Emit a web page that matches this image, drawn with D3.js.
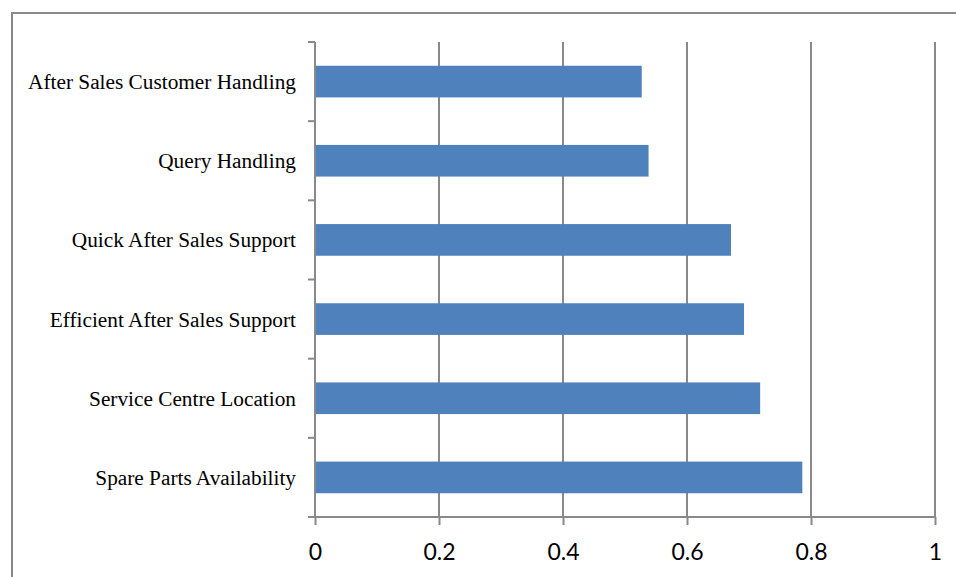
<!DOCTYPE html>
<html>
<head>
<meta charset="utf-8">
<script src="https://cdn.jsdelivr.net/npm/d3@7/dist/d3.min.js"></script>
<style>
  html, body { margin: 0; padding: 0; background: #fff; }
  svg { display: block; }
</style>
</head>
<body>
<svg id="chart" width="956" height="577"></svg>
<script>
// Service attributes, listed top to bottom
const categories = [
  "After Sales Customer Handling",
  "Query Handling",
  "Quick After Sales Support",
  "Efficient After Sales Support",
  "Service Centre Location",
  "Spare Parts Availability"
];
const scores = [0.527, 0.538, 0.671, 0.692, 0.718, 0.786];
const xTicks = [0, 0.2, 0.4, 0.6, 0.8, 1];
const xTickLabels = ["0", "0.2", "0.4", "0.6", "0.8", "1"];

const svg = d3.select("#chart");
const W = 956, H = 577;
const plot = { left: 315, right: 935, top: 42, bottom: 517 };
const gridColor = "#898989";

// Outer chart frame (extends past the right and bottom edges)
svg.append("rect")
  .attr("x", 12).attr("y", 13)
  .attr("width", W + 20).attr("height", H + 20)
  .attr("fill", "none")
  .attr("stroke", gridColor)
  .attr("stroke-width", 2);

const x = d3.scaleLinear().domain([0, 1]).range([plot.left, plot.right]);
const y = d3.scaleBand().domain(categories)
  .range([plot.top, plot.bottom])
  .paddingInner(0.6).paddingOuter(0.3);
const yEdges = d3.scaleBand().domain(categories).range([plot.top, plot.bottom]);

// Vertical gridlines
svg.append("g")
  .selectAll("line")
  .data(xTicks.slice(1))
  .join("line")
  .attr("x1", d => x(d)).attr("x2", d => x(d))
  .attr("y1", plot.top).attr("y2", plot.bottom)
  .attr("stroke", gridColor).attr("stroke-width", 2);

// Bars
svg.append("g")
  .selectAll("rect")
  .data(categories)
  .join("rect")
  .attr("x", x(0))
  .attr("y", d => y(d))
  .attr("width", (d, i) => x(scores[i]) - x(0))
  .attr("height", y.bandwidth())
  .attr("fill", "#4F81BD");

// X axis
const xAxis = d3.axisBottom(x)
  .tickValues(xTicks)
  .tickFormat((d, i) => xTickLabels[i])
  .tickSize(8)
  .tickSizeOuter(0);
const gx = svg.append("g")
  .attr("transform", `translate(0,${plot.bottom})`)
  .call(xAxis);
gx.select(".domain").attr("stroke", gridColor).attr("stroke-width", 2)
  .attr("d", `M${plot.left - 7},0H${plot.right}`);
gx.selectAll(".tick line").attr("stroke", gridColor).attr("stroke-width", 2);
gx.selectAll(".tick text")
  .attr("fill", "#000")
  .attr("font-family", "Lato, 'Open Sans', sans-serif")
  .attr("font-size", 23)
  .attr("dy", 0)
  .attr("y", 43);

// Y axis: category boundary ticks and labels
const gy = svg.append("g");
gy.append("line")
  .attr("x1", plot.left).attr("x2", plot.left)
  .attr("y1", plot.top).attr("y2", plot.bottom)
  .attr("stroke", gridColor).attr("stroke-width", 2);
gy.selectAll("line.tick")
  .data(categories)
  .join("line")
  .attr("class", "tick")
  .attr("x1", plot.left - 7).attr("x2", plot.left)
  .attr("y1", d => yEdges(d)).attr("y2", d => yEdges(d))
  .attr("stroke", gridColor).attr("stroke-width", 2);
gy.selectAll("text")
  .data(categories)
  .join("text")
  .attr("x", plot.left - 19)
  .attr("y", d => yEdges(d) + yEdges.bandwidth() / 2)
  .attr("dy", "0.35em")
  .attr("text-anchor", "end")
  .attr("font-family", "'Liberation Serif', 'Times New Roman', serif")
  .attr("font-size", 21.3)
  .attr("fill", "#000")
  .text(d => d);
</script>
</body>
</html>
